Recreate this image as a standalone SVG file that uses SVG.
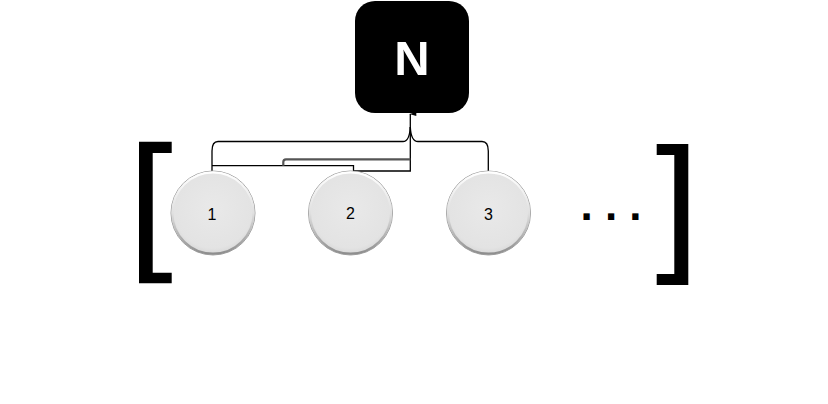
<svg xmlns="http://www.w3.org/2000/svg" width="828" height="404" viewBox="0 0 828 404">
  <defs>
    <radialGradient id="ballFill" cx="50%" cy="45%" r="55%">
      <stop offset="0" stop-color="#e9e9e9"/>
      <stop offset="0.85" stop-color="#e3e3e3"/>
      <stop offset="1" stop-color="#d6d6d6"/>
    </radialGradient>
    <linearGradient id="rim" x1="0" y1="0" x2="0" y2="1">
      <stop offset="0" stop-color="#ffffff"/>
      <stop offset="0.5" stop-color="#e0e0e0"/>
      <stop offset="1" stop-color="#8e8e8e"/>
    </linearGradient>
    <marker id="tip" markerWidth="6" markerHeight="8" refX="3" refY="1" orient="auto-start-reverse" markerUnits="userSpaceOnUse" viewBox="0 0 6 8">
      <path d="M3,0 L5,7 L1,7 Z" fill="#000"/>
    </marker>
  </defs>
  <style>
    .ball { fill: url(#ballFill); stroke: #a0a0a0; stroke-width: 1; }
    .ring { fill: none; stroke: url(#rim); stroke-width: 2.2; }
    .num { font-family: "Liberation Sans", Arial, sans-serif; font-size: 16px; fill: #000; text-anchor: middle; }
    .wire { fill: none; stroke: #000; stroke-width: 1.3; }
    .wire2 { fill: none; stroke: #555; stroke-width: 2.2; }
    .bracket { fill: #000; }
  </style>
  <rect width="828" height="404" fill="#fff"/>

  <g id="bracket-left">
    <path class="bracket" d="M139,141.7 H171.7 V153 H152.7 V272.7 H171.7 V283.3 H139 Z"/>
  </g>
  <g id="bracket-right">
    <path class="bracket" d="M688.3,144 H656.7 V155 H674.3 V274 H656.7 V285 H688.3 Z"/>
  </g>

  <g id="connectors">
    <path class="wire" d="M212,172 V151 Q212,141.5 218,141.5 H403 Q409.5,141.5 410.3,127"/>
    <path class="wire" d="M410.3,127 Q411,141.5 418,141.5 H482 Q488.3,141.5 488.3,151 V172"/>
    <path class="wire" d="M212,165.7 H353.5 V171 H410.3 V114" marker-end="url(#tip)"/>
    <path class="wire2" d="M283.3,165.7 V162 Q283.3,159.3 286,159.3 H410.3"/>
  </g>

  <g id="node-N">
    <rect x="355" y="1" width="114" height="112" rx="20" ry="20" fill="#000"/>
    <text x="412" y="75" font-family="'Liberation Sans', Arial, sans-serif" font-size="49" font-weight="bold" fill="#fff" text-anchor="middle">N</text>
  </g>

  <g id="node-1">
    <circle class="ball" cx="213" cy="213" r="42"/>
    <circle class="ring" cx="213" cy="213" r="40.6"/>
    <text class="num" x="212" y="220">1</text>
  </g>
  <g id="node-2">
    <circle class="ball" cx="350.5" cy="213" r="42"/>
    <circle class="ring" cx="350.5" cy="213" r="40.6"/>
    <text class="num" x="350.5" y="219">2</text>
  </g>
  <g id="node-3">
    <circle class="ball" cx="488.5" cy="213" r="42"/>
    <circle class="ring" cx="488.5" cy="213" r="40.6"/>
    <text class="num" x="488.5" y="220">3</text>
  </g>

  <g id="ellipsis">
    <text x="611" y="220" font-family="'Liberation Sans', Arial, sans-serif" font-size="44" font-weight="bold" fill="#000" text-anchor="middle">. . .</text>
  </g>
</svg>
